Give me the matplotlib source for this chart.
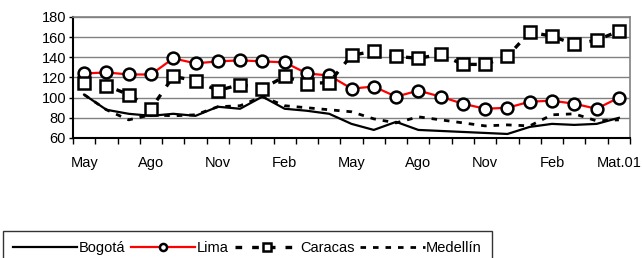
import numpy as np
import matplotlib.pyplot as plt
from matplotlib.ticker import FixedLocator

plt.rcParams['font.family'] = ['Liberation Sans', 'DejaVu Sans']

# monthly values, May 1999 - May 2001
months = np.arange(25)
xlabels = ['May', 'Ago', 'Nov', 'Feb', 'May', 'Ago', 'Nov', 'Feb', 'Mat.01']
bogota = [103, 88, 84, 82, 84, 82, 91, 89, 101, 89, 87, 84, 74, 68, 76, 68, 67, 66,
          65, 64, 71, 74, 73, 74, 80]
lima = [124, 125, 123, 123, 139, 134, 136, 137, 136, 135, 124, 122, 109, 111, 101, 107,
        101, 94, 89, 90, 96, 97, 94, 89, 100]
caracas = [115, 112, 103, 89, 121, 117, 107, 113, 109, 121, 114, 115, 142, 146, 141, 139,
           143, 133, 133, 141, 165, 161, 153, 157, 166]
medellin = [103, 88, 78, 83, 82, 83, 91, 92, 101, 92, 90, 88, 86, 79, 75, 81, 78, 75,
            72, 73, 72, 83, 84, 77, 78]

fig = plt.figure(figsize=(6.42, 2.58), dpi=100)
ax = fig.add_axes([73 / 642, 1 - 138 / 258, 557 / 642, 121 / 258])

ax.plot(months, bogota, color='black', lw=1.6, label='Bogotá', zorder=3)
ax.plot(months, lima, color='red', lw=1.6, marker='o', ms=8.5, mfc='white',
        mec='black', mew=1.8, label='Lima', zorder=4)
ax.plot(months, caracas, color='black', lw=2.4, dashes=(2, 3), marker='s', ms=8.5,
        mfc='white', mec='black', mew=1.8, label='Caracas', zorder=5)
ax.plot(months, medellin, color='black', lw=2, dashes=(2, 2.5), label='Medellín',
        zorder=3)

ax.set_xlim(-0.5, 24.5)
ax.set_ylim(60, 180)
ax.set_yticks(range(60, 181, 20))
ax.set_xticks(range(0, 25, 3))
ax.set_xticklabels(xlabels)
ax.xaxis.set_minor_locator(FixedLocator(np.arange(-0.5, 25, 1)))
ax.tick_params(axis='x', which='major', length=0, pad=13, labelsize=10.5)
ax.tick_params(axis='x', which='minor', length=4, width=1, color='black')
ax.tick_params(axis='y', length=3, width=1, pad=2, labelsize=10.5)
ax.grid(axis='y', color='#808080', lw=1)
for s in ['top', 'right']:
    ax.spines[s].set_color('#808080')
    ax.spines[s].set_linewidth(1.2)
for s in ['left', 'bottom']:
    ax.spines[s].set_color('black')
    ax.spines[s].set_linewidth(1.5)

leg = fig.legend(loc='upper left', bbox_to_anchor=(3 / 642, 1 - 231 / 258), ncol=4,
                 fontsize=10.5, handlelength=4.4, handletextpad=0.1, columnspacing=0.4,
                 borderpad=0.7, borderaxespad=0, fancybox=False, edgecolor='black',
                 markerscale=0.6)
leg.get_frame().set_linewidth(1)

fig.savefig('out.png', dpi=100)
